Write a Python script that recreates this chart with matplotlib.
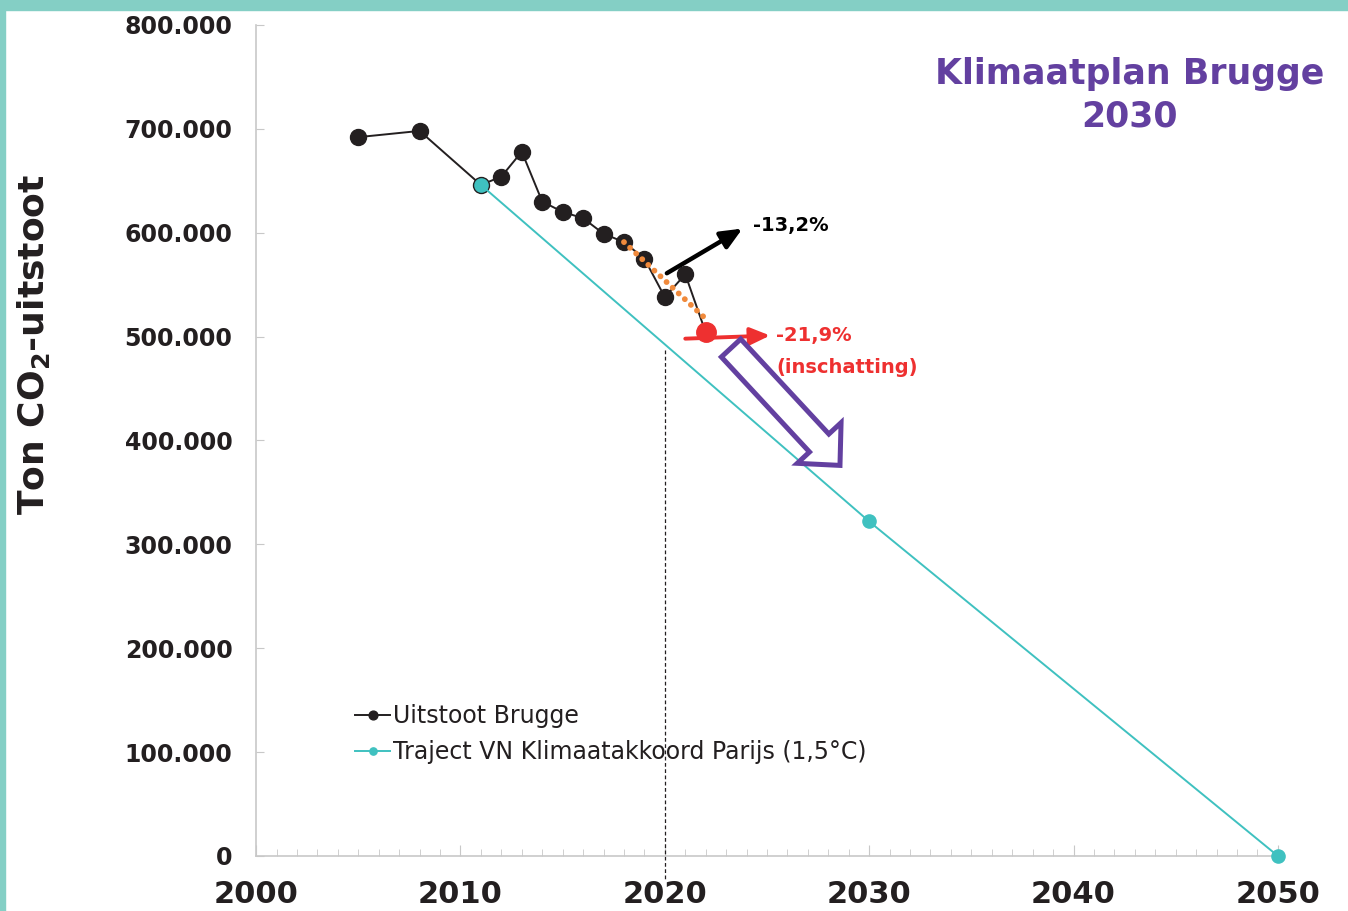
"""Klimaatplan Brugge: CO2-uitstoot vs. Parijs-traject."""

import matplotlib
matplotlib.use("Agg")
import matplotlib.pyplot as plt
from matplotlib.patches import FancyArrowPatch, Rectangle
from matplotlib.ticker import FuncFormatter, MultipleLocator

# data
years_brugge = [2005, 2008, 2011, 2012, 2013, 2014, 2015, 2016, 2017, 2018, 2019, 2020, 2021, 2022]
uitstoot_brugge = [692000, 698000, 646000, 654000, 678000, 630000, 620000, 614000,
                   599000, 591000, 575000, 538000, 560000, 504000]
years_paris = [2011, 2030, 2050]
traject_paris = [646000, 322000, 0]
trend_years = [2018, 2021.9]
trend_values = [591000, 519000]
schatting_year = 2022
schatting_value = 504000

BLACK = "#231f20"
TEAL = "#3fc1c0"
RED = "#ee3030"
ORANGE = "#f08a3c"
PURPLE = "#6340a0"

fig = plt.figure(figsize=(13.48, 9.11), dpi=100)
ax = fig.add_axes([0.19, 0.0604, 0.758, 0.9122])

ax.plot(years_brugge, uitstoot_brugge, color=BLACK, lw=1.4, marker="o", ms=11.5,
        label="Uitstoot Brugge", zorder=3)
ax.plot(years_paris, traject_paris, color=TEAL, lw=1.4, marker="o", ms=9.5,
        label="Traject VN Klimaatakkoord Parijs (1,5°C)", zorder=4, clip_on=False)
ax.plot(trend_years, trend_values, color=ORANGE, lw=4.2, linestyle=(0, (0.01, 1.42)),
        dash_capstyle="round", zorder=5)
ax.plot([schatting_year], [schatting_value], marker="o", ms=14, color=RED, zorder=6)

# vertical marker at 2020
ax.plot([2020, 2020], [487000, -23000], color=BLACK, lw=0.9, linestyle=(0, (3, 2)),
        clip_on=False, zorder=2)

# -13,2% arrow
ax.annotate("", xy=(2023.8, 604000), xytext=(2020.1, 561000),
            arrowprops=dict(arrowstyle="-|>,head_length=0.8,head_width=0.35", lw=3.2,
                            color="black", shrinkA=0, shrinkB=0, mutation_scale=16),
            zorder=7)
ax.text(2024.3, 607000, "-13,2%", fontsize=14, fontweight="bold", color="black",
        ha="left", va="center")

# -21,9% arrow
ax.annotate("", xy=(2025.15, 501000), xytext=(2021.0, 498000),
            arrowprops=dict(arrowstyle="-|>,head_length=0.8,head_width=0.35", lw=2.8,
                            color=RED, shrinkA=0, shrinkB=0, mutation_scale=15),
            zorder=7)
ax.text(2025.45, 501000, "-21,9%", fontsize=14, fontweight="bold", color=RED,
        ha="left", va="center")
ax.text(2025.45, 470000, "(inschatting)", fontsize=14, fontweight="bold", color=RED,
        ha="left", va="center")

# hollow purple arrow
hollow = FancyArrowPatch((2023.24, 489000), (2028.57, 376000),
                         arrowstyle="simple,head_length=22,head_width=43,tail_width=19",
                         mutation_scale=1, shrinkA=0, shrinkB=0, joinstyle="miter",
                         fc="white", ec=PURPLE, lw=3.6, zorder=8)
ax.add_patch(hollow)

ax.set_xlim(2000, 2050)
ax.set_ylim(0, 800000)
ax.xaxis.set_major_locator(MultipleLocator(10))
ax.xaxis.set_minor_locator(MultipleLocator(1))
ax.yaxis.set_major_locator(MultipleLocator(100000))
ax.yaxis.set_major_formatter(FuncFormatter(lambda v, p: "0" if v == 0 else f"{int(v):,}".replace(",", ".")))

for s in ["top", "right"]:
    ax.spines[s].set_visible(False)
for s in ["left", "bottom"]:
    ax.spines[s].set_color("#c8c8c8")
    ax.spines[s].set_linewidth(1.2)

ax.tick_params(axis="y", direction="in", length=6, color="#c8c8c8", pad=17,
               labelsize=17)
ax.tick_params(axis="x", which="major", direction="in", length=8, color="#c8c8c8",
               pad=17, labelsize=22)
ax.tick_params(axis="x", which="minor", direction="in", length=5, color="#c8c8c8")
for lab in ax.get_yticklabels() + ax.get_xticklabels():
    lab.set_fontweight("bold")
    lab.set_color(BLACK)

ax.set_ylabel("Ton CO$_\\mathbf{2}$-uitstoot", fontsize=26, fontweight="bold",
              color=BLACK)
ax.yaxis.set_label_coords(-0.2, 0.615)

leg = ax.legend(loc="lower left", bbox_to_anchor=(0.076, 0.085), frameon=False,
                fontsize=17, handlelength=1.5, handletextpad=0.1, labelspacing=0.5,
                markerscale=0.55)
for t in leg.get_texts():
    t.set_color(BLACK)

fig.text(0.838, 0.937, "Klimaatplan Brugge\n2030", fontsize=25, fontweight="bold",
         color=PURPLE, ha="center", va="top", linespacing=1.3)

# teal frame
fig.patches.append(Rectangle((0, 1 - 10 / 911), 1, 10 / 911, transform=fig.transFigure,
                             color="#84cfc5", zorder=0))
fig.patches.append(Rectangle((0, 0), 5 / 1348, 1, transform=fig.transFigure,
                             color="#84cfc5", zorder=0))

fig.savefig("out.png", dpi=100)
